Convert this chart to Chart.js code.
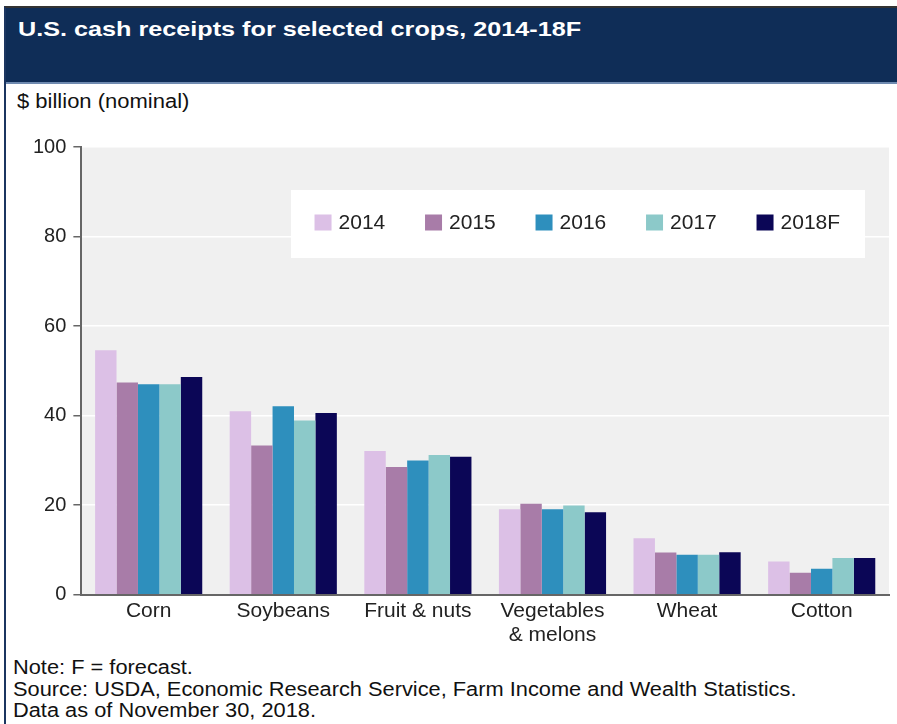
<!DOCTYPE html>
<html><head><meta charset="utf-8">
<script src="https://cdn.jsdelivr.net/npm/chart.js@4.4.0/dist/chart.umd.min.js"></script>
<style>
html,body{margin:0;padding:0;background:#fff;width:897px;height:724px;overflow:hidden;font-family:"Liberation Sans",Arial,sans-serif;}
#frame{position:absolute;left:4px;top:6px;width:893px;height:718px;border-left:2px solid #1b3560;border-top:2px solid #333;box-sizing:border-box;}
#header{position:absolute;left:6px;top:8px;width:891px;height:76px;background:#0f2d57;border-bottom:2px solid #6f8ab0;box-sizing:border-box;}
#title{position:absolute;left:18px;top:18px;color:#fff;font-weight:bold;font-size:21px;line-height:21px;white-space:nowrap;transform:scaleX(1.2);transform-origin:0 0;}
#unit{position:absolute;left:17px;top:91px;color:#111;font-size:20px;line-height:20px;white-space:nowrap;transform:scaleX(1.1);transform-origin:0 0;}
#notes{position:absolute;left:13px;top:657px;color:#111;font-size:20px;line-height:21.5px;white-space:nowrap;transform:scaleX(1.09);transform-origin:0 0;}
#wrap{position:absolute;left:0;top:128px;width:897px;height:523px;}
</style></head>
<body>
<div id="frame"></div>
<div id="header"></div>
<div id="title">U.S. cash receipts for selected crops, 2014-18F</div>
<div id="unit">$ billion (nominal)</div>
<div id="wrap"><canvas id="c" width="897" height="523"></canvas></div>
<div id="notes">Note: F = forecast.<br>Source: USDA, Economic Research Service, Farm Income and Wealth Statistics.<br>Data as of November 30, 2018.</div>
<script>
const categories = [["Corn"], ["Soybeans"], ["Fruit & nuts"], ["Vegetables", "& melons"], ["Wheat"], ["Cotton"]];
const seriesLabels = ["2014", "2015", "2016", "2017", "2018F"];
const v2014 = [54.6, 41.0, 32.1, 19.1, 12.6, 7.4];
const v2015 = [47.4, 33.3, 28.5, 20.3, 9.4, 4.9];
const v2016 = [47.0, 42.1, 30.0, 19.1, 8.9, 5.8];
const v2017 = [47.0, 38.9, 31.2, 19.9, 8.9, 8.2];
const v2018F = [48.6, 40.6, 30.8, 18.4, 9.5, 8.2];
const yTicks = [0, 20, 40, 60, 80, 100];
const colors = ["#dcc0e6", "#a87ca8", "#2e8fbd", "#8cc9c9", "#0b0656"];
const seriesValues = [v2014, v2015, v2016, v2017, v2018F];
const FONT = '"Liberation Sans", Arial, sans-serif';

const bgPlugin = {
  id: 'bg',
  beforeDraw(chart) {
    const {ctx, chartArea: a} = chart;
    ctx.save();
    ctx.fillStyle = '#f0f0f0';
    ctx.fillRect(a.left, a.top, a.right - a.left, a.bottom - a.top);
    ctx.restore();
  }
};
const legendPlugin = {
  id: 'boxLegend',
  afterDraw(chart) {
    const {ctx, chartArea: a} = chart;
    const w = a.right - a.left;
    const x0 = a.left + w * 0.2596, x1 = a.left + w * 0.9703;
    const y0 = a.top + 43, y1 = a.top + 111;
    ctx.save();
    ctx.fillStyle = '#ffffff';
    ctx.fillRect(x0, y0, x1 - x0, y1 - y0);
    const cy = (y0 + y1) / 2 - 1.5;
    ctx.font = '21px ' + FONT;
    ctx.textBaseline = 'middle';
    chart.data.datasets.forEach((ds, i) => {
      const sx = x0 + 23.5 + i * 110.5;
      ctx.fillStyle = ds.backgroundColor;
      ctx.fillRect(sx, cy - 8, 17, 16);
      ctx.fillStyle = '#222';
      ctx.fillText(ds.label, sx + 24, cy + 1);
    });
    ctx.restore();
  }
};

new Chart(document.getElementById('c'), {
  type: 'bar',
  data: {
    labels: categories,
    datasets: seriesLabels.map((l, i) => ({
      label: l,
      data: seriesValues[i],
      backgroundColor: colors[i],
      borderWidth: 0,
      barPercentage: 1.0,
      categoryPercentage: 0.796
    }))
  },
  options: {
    responsive: false,
    animation: false,
    layout: {padding: {top: 19, right: 8, left: 26, bottom: 0}},
    plugins: {legend: {display: false}, tooltip: {enabled: false}},
    scales: {
      x: {
        grid: {display: false, drawTicks: false},
        border: {display: true, color: '#666', width: 2},
        ticks: {color: '#222', font: {size: 21, family: FONT, lineHeight: 1.15}, padding: 4, maxRotation: 0}
      },
      y: {
        min: 0, max: 100,
        afterBuildTicks(scale) { scale.ticks = yTicks.map(v => ({value: v})); },
        grid: {color: '#ffffff', lineWidth: 1.5, tickColor: '#666', tickLength: 8, drawTicks: true},
        border: {display: true, color: '#666', width: 2},
        ticks: {color: '#222', font: {size: 20, family: FONT}, padding: 7}
      }
    }
  },
  plugins: [bgPlugin, legendPlugin]
});
</script>
</body></html>
